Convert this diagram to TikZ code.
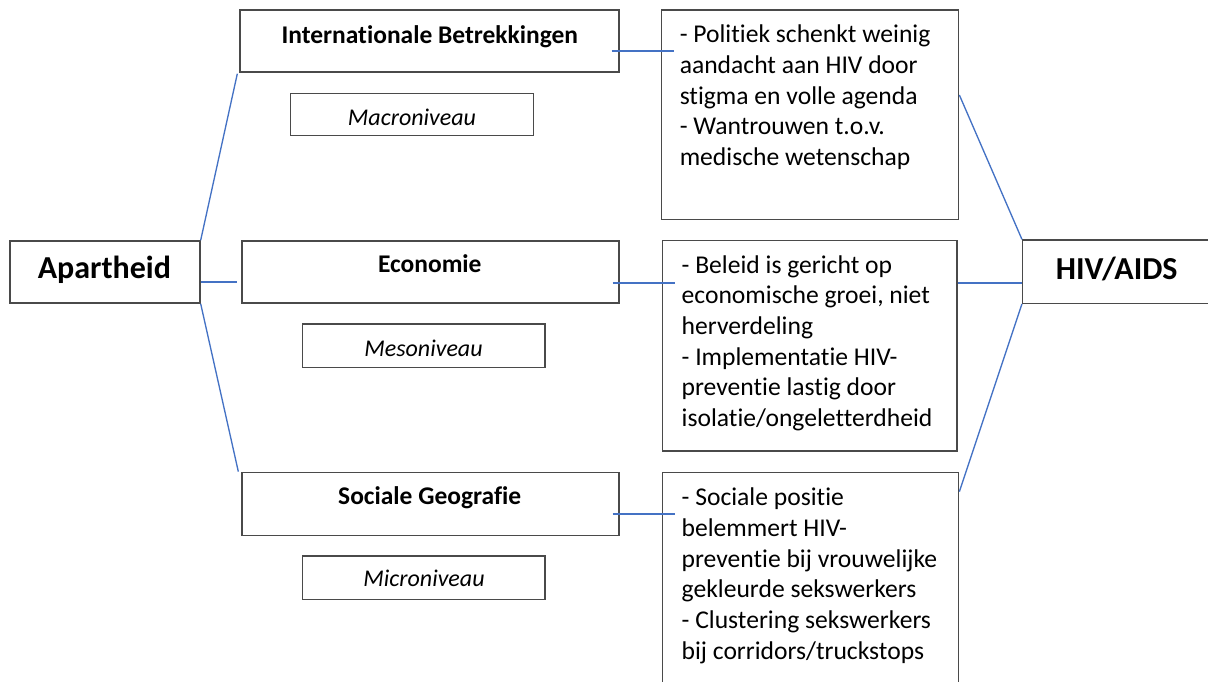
\documentclass[tikz,border=0pt]{standalone}
\usepackage{fontspec}
\setmainfont{Carlito}[Ligatures={NoCommon}]
\usetikzlibrary{fit,calc}
\definecolor{connblue}{HTML}{4472C4}
\definecolor{boxgray}{HTML}{4A4A4A}
\tikzset{
  box/.style={draw=boxgray, line width=1pt, inner sep=0pt, fill=none},
  conn/.style={draw=connblue, line width=1pt},
  title/.style={inner sep=0pt, anchor=base, font=\fontsize{19.1}{23}\selectfont\bfseries},
  big/.style={inner sep=0pt, anchor=base, font=\fontsize{24}{28}\selectfont\bfseries},
  level/.style={inner sep=0pt, anchor=base, font=\fontsize{18}{22}\selectfont\itshape},
  body/.style={inner sep=0pt, anchor=base west, font=\fontsize{19.2}{23}\selectfont},
}
\begin{document}
\begin{tikzpicture}[x=0.75pt, y=-0.75pt]
\useasboundingbox (0,0) rectangle (1208,682);
\clip (0,0) rectangle (1208,682);
% boxes
\node[box, fit={(10,241)(200,303)}] (apartheid) {};
\node[big] (apartheidT) at (104.4,278.3) {Apartheid};
\node[box, fit={(240,10)(619,72)}] (ib) {};
\node[title] (ibT) at (429.8,43.3) {Internationale Betrekkingen};
\node[box, fit={(290.6,93.7)(533.8,135.7)}] (macro) {};
\node[level] (macroT) at (412,125) {Macroniveau};
\node[box, fit={(242,241)(619,303)}] (econ) {};
\node[title] (econT) at (429.8,272.7) {Economie};
\node[box, fit={(302.5,324)(545,367.3)}] (meso) {};
\node[level] (mesoT) at (423.5,356) {Mesoniveau};
\node[box, fit={(242,472.3)(619,535.3)}] (soc) {};
\node[title] (socT) at (429.7,504.3) {Sociale Geografie};
\node[box, fit={(302.5,556)(545,599.3)}] (micro) {};
\node[level] (microT) at (424,586) {Microniveau};
\node[box, fit={(661.3,10)(958.7,219.3)}] (t1) {};
\node[body] (t1T) at (679.5,42.7) {\parbox[t]{220pt}{\raggedright - Politiek schenkt weinig\\aandacht aan HIV door\\stigma en volle agenda\\- Wantrouwen t.o.v.\\medische wetenschap}};
\node[box, fit={(662.8,240.7)(957,451)}] (t2) {};
\node[body] (t2T) at (681.4,273.3) {\parbox[t]{220pt}{\raggedright - Beleid is gericht op\\economische groei, niet\\herverdeling\\- Implementatie HIV-\\preventie lastig door\\isolatie/ongeletterdheid}};
\node[box, fit={(662.8,472.3)(958.7,700)}] (t3) {};
\node[body] (t3T) at (681.4,505.7) {\parbox[t]{220pt}{\raggedright - Sociale positie\\belemmert HIV-\\preventie bij vrouwelijke\\gekleurde sekswerkers\\- Clustering sekswerkers\\bij corridors/truckstops}};
\node[box, fit={(1022.6,240)(1220,303.3)}] (hiv) {};
\node[big] (hivT) at (1116.7,279) {HIV/AIDS};
% connector levels
\coordinate (la) at (0,282);
\coordinate (l1) at (0,51);
\coordinate (l2) at (0,283);
\coordinate (l3) at (0,514);
\coordinate (r1) at (0,95);
\coordinate (r3) at (0,491.7);
% connectors left
\draw[conn] (apartheid.north east) -- ($(ib.south west)+(-2,1)$);
\draw[conn] (apartheid.east|-la) -- ($(econ.west|-la)+(-4,0)$);
\draw[conn] (apartheid.south east) -- ($(soc.north west)+(-3,0)$);
% connectors middle
\draw[conn] ($(ib.east|-l1)+(-8,0)$) -- ($(t1.west|-l1)+(13,0)$);
\draw[conn] ($(econ.east|-l2)+(-7,0)$) -- ($(t2.west|-l2)+(13,0)$);
\draw[conn] ($(soc.east|-l3)+(-7,0)$) -- ($(t3.west|-l3)+(13,0)$);
% connectors right
\draw[conn] (t1.east|-r1) -- (hiv.north west);
\draw[conn] (t2.east|-l2) -- (hiv.west|-l2);
\draw[conn] (hiv.south west) -- (t3.east|-r3);
\end{tikzpicture}
\end{document}
